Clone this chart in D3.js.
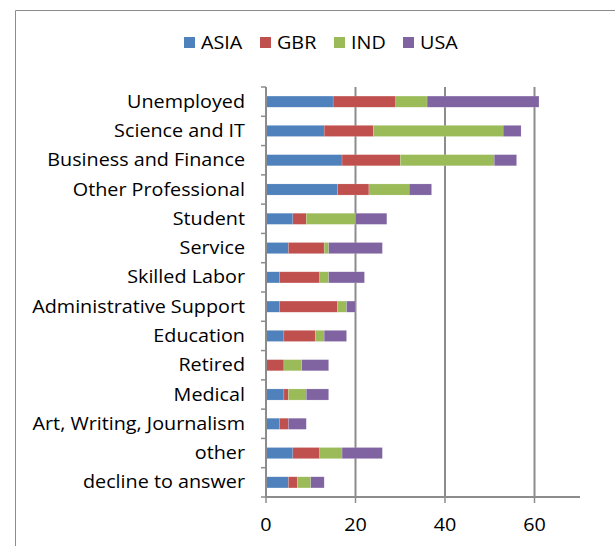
<!DOCTYPE html>
<html><head><meta charset="utf-8">
<script src="https://cdn.jsdelivr.net/npm/d3@7"></script>
<style>body{margin:0;background:#fff}svg{display:block}text{font-family:"Open Sans",sans-serif;fill:#000}</style>
</head><body><svg id="c" width="615" height="546"></svg>
<script>
const categories = ["Unemployed","Science and IT","Business and Finance","Other Professional","Student","Service","Skilled Labor","Administrative Support","Education","Retired","Medical","Art, Writing, Journalism","other","decline to answer"];
const seriesNames = ["ASIA","GBR","IND","USA"];
const ASIA = [15,13,17,16,6,5,3,3,4,0,4,3,6,5];
const GBR  = [14,11,13,7,3,8,9,13,7,4,1,2,6,2];
const IND  = [7,29,21,9,11,1,2,2,2,4,4,0,5,3];
const USA  = [25,4,5,5,7,12,8,2,5,6,5,4,9,3];
const xTicks = [0,20,40,60];
const colors = ["#4f81bd","#c0504d","#9bbb59","#8064a2"];

const svg = d3.select("#c");
const FS = 17.5, SX = 1.13;
function txt(sel, x, y, s, anchor){
  return sel.append("text").attr("transform",`translate(${x},${y}) scale(${SX},1)`)
    .attr("text-anchor",anchor||"start").attr("font-size",FS).text(s);
}
// frame
svg.append("path").attr("d","M15.5,546 V10.5 H615").attr("fill","none").attr("stroke","#8c8c8c").attr("stroke-width",1);

const x0=266, x1=580, yTop=87, yBot=497;
const x = d3.scaleLinear().domain([0,70]).range([x0, x0+70*4.475]);
const y = d3.scaleBand().domain(categories).range([yTop,yBot]).paddingInner(0.62).paddingOuter(0.31);

const rows = categories.map((c,i)=>({cat:c,ASIA:ASIA[i],GBR:GBR[i],IND:IND[i],USA:USA[i]}));
const stack = d3.stack().keys(seriesNames)(rows);

// gridlines
const g = svg.append("g");
g.selectAll("line.grid").data(xTicks.filter(d=>d>0)).join("line")
 .attr("x1",d=>x(d)).attr("x2",d=>x(d)).attr("y1",yTop).attr("y2",yBot)
 .attr("stroke","#8c8c8c").attr("stroke-width",2);

// bars
stack.forEach((s,si)=>{
  g.append("g").selectAll("rect").data(s).join("rect")
   .attr("x",d=>x(d[0])).attr("width",d=>x(d[1])-x(d[0]))
   .attr("y",d=>y(d.data.cat)).attr("height",y.bandwidth())
   .attr("fill",colors[si]).attr("stroke","#fff").attr("stroke-opacity",0.3).attr("stroke-width",0.5);
});

// y axis
const yAxisG = svg.append("g");
yAxisG.append("line").attr("x1",x0).attr("x2",x0).attr("y1",yTop).attr("y2",yBot).attr("stroke","#8c8c8c").attr("stroke-width",2);
const step = (yBot-yTop)/categories.length;
yAxisG.selectAll("line.tk").data(d3.range(categories.length+1)).join("line")
 .attr("x1",x0-5).attr("x2",x0).attr("y1",d=>yTop+d*step).attr("y2",d=>yTop+d*step)
 .attr("stroke","#8c8c8c").attr("stroke-width",1.5);
categories.forEach(c=>{
  txt(yAxisG, x0-21, y(c)+y.bandwidth()/2+0.35*FS, c, "end");
});

// x axis
const xAxisG = svg.append("g");
xAxisG.append("line").attr("x1",x0-1).attr("x2",x1).attr("y1",yBot).attr("y2",yBot).attr("stroke","#8c8c8c").attr("stroke-width",2);
xAxisG.selectAll("line.tk").data(xTicks).join("line")
 .attr("x1",d=>x(d)).attr("x2",d=>x(d)).attr("y1",yBot).attr("y2",yBot+6)
 .attr("stroke","#8c8c8c").attr("stroke-width",1.5);
xTicks.forEach(t=>{ txt(xAxisG, x(t), 531, String(t), "middle"); });

// legend
const legX=[184,260,334,403];
const leg = svg.append("g");
seriesNames.forEach((n,i)=>{
  leg.append("rect").attr("x",legX[i]).attr("y",37).attr("width",11).attr("height",11).attr("fill",colors[i]);
  txt(leg, legX[i]+17, 48.5, n, "start");
});
</script></body></html>
